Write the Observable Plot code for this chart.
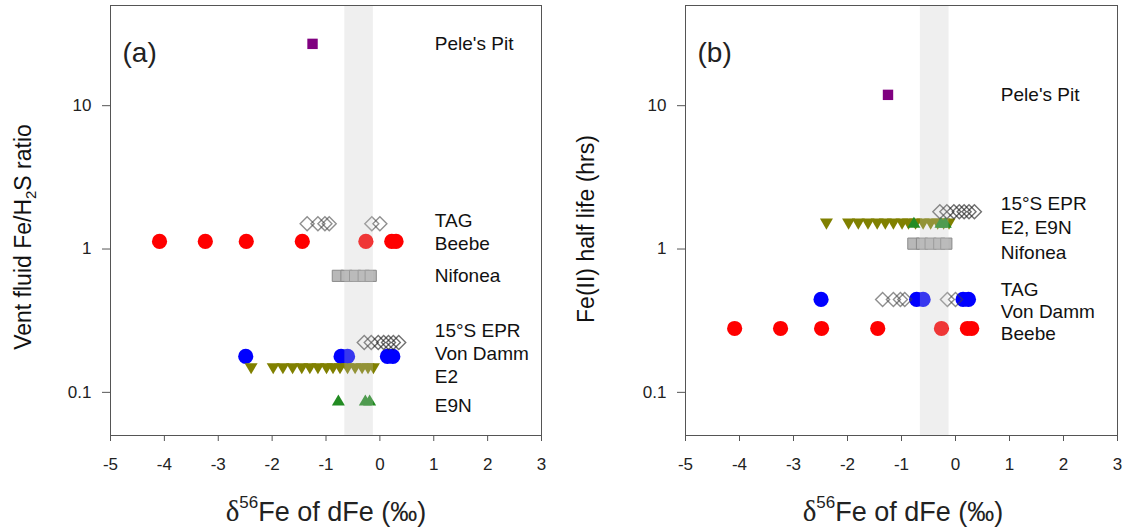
<!DOCTYPE html>
<html><head><meta charset="utf-8">
<script src="https://cdn.jsdelivr.net/npm/d3@7"></script>
<script src="https://cdn.jsdelivr.net/npm/@observablehq/plot@0.6"></script>
<style>
body{margin:0;background:#fff;}
#wrap{display:flex;width:1126px;height:529px;}
svg{font-family:Arial,"Liberation Sans",sans-serif;}
</style></head><body><div id="wrap"></div>
<script>
// ---------- data ----------
const xTicks = [-5, -4, -3, -2, -1, 0, 1, 2, 3];
const yTicks = [0.1, 1, 10];
const bandRange = [-0.65, -0.12];

const siteNames = ["Pele's Pit", "Beebe", "Von Damm", "TAG", "Nifonea", "E2", "E9N", "15°S EPR"];
const peleX = [-1.25];
const beebeX = [-4.09, -3.24, -2.48, -1.44, -0.26, 0.22, 0.3];
const vonDammX = [-2.49, -0.72, -0.6, 0.14, 0.24];
const tagX = [-1.35, -1.15, -1.02, -0.94, -0.15, 0.0];
const nifoneaX = [-0.78, -0.62, -0.46, -0.3, -0.17];
const e2X = [-2.39, -1.98, -1.8, -1.62, -1.45, -1.3, -1.15, -0.99, -0.87, -0.74, -0.6, -0.46, -0.33, -0.22, -0.12];
const e9nX = [-0.77, -0.27, -0.19];
const eprX = [-0.29, -0.16, -0.03, 0.07, 0.16, 0.25, 0.35];
const siteX = [peleX, beebeX, vonDammX, tagX, nifoneaX, e2X, e9nX, eprX];

// panel (a): vent fluid Fe/H2S ratio, panel (b): Fe(II) half life (hrs)
const ratioValues = [27, 1.13, 0.178, 1.5, 0.65, 0.147, 0.088, 0.223];
const halfLifeValues = [11.9, 0.279, 0.445, 0.445, 1.09, 1.5, 1.53, 1.82];

const labelsA = ["Pele's Pit", "TAG", "Beebe", "Nifonea", "15°S EPR", "Von Damm", "E2", "E9N"];
const labelYA = [27, 1.58, 1.09, 0.653, 0.27, 0.184, 0.129, 0.080];
const labelsB = ["Pele's Pit", "15°S EPR", "E2, E9N", "Nifonea", "TAG", "Von Damm", "Beebe"];
const labelYB = [11.9, 2.08, 1.41, 0.946, 0.52, 0.366, 0.254];

// ---------- build rows ----------
const rows = [];
siteNames.forEach((s, i) => siteX[i].forEach(x => rows.push({site: s, x, a: ratioValues[i], b: halfLifeValues[i]})));

// ---------- symbols ----------
const rOf = size => Math.sqrt(size / Math.PI);
const squareSym = {draw(c, size){const r = rOf(size); c.rect(-r, -r, 2*r, 2*r);}};
const diamondSym = {draw(c, size){const r = rOf(size); c.moveTo(0,-r); c.lineTo(r,0); c.lineTo(0,r); c.lineTo(-r,0); c.closePath();}};
const downTri = {draw(c, size){const r = rOf(size); c.moveTo(-r,-0.8*r); c.lineTo(r,-0.8*r); c.lineTo(0,0.9*r); c.closePath();}};
const upTri = {draw(c, size){const r = rOf(size); c.moveTo(-r,0.8*r); c.lineTo(r,0.8*r); c.lineTo(0,-0.9*r); c.closePath();}};

const styles = {
  "Pele's Pit": {symbol: squareSym, r: 5.2, fill: "#800080"},
  "Beebe": {symbol: "circle", r: 7.6, fill: "#ff0000"},
  "Von Damm": {symbol: "circle", r: 7.6, fill: "#0000ff"},
  "Nifonea": {symbol: squareSym, r: 5.6, fill: "#b8b8b8", stroke: "#8a8a8a", strokeWidth: 1},
  "E2": {symbol: downTri, r: 6.5, fill: "#808000"},
  "E9N": {symbol: upTri, r: 6.5, fill: "#228b22"},
  "TAG": {symbol: diamondSym, r: 7, fill: "none", stroke: "#444", strokeOpacity: 0.6, strokeWidth: 1.4},
  "15°S EPR": {symbol: diamondSym, r: 7, fill: "none", stroke: "#222", strokeOpacity: 0.65, strokeWidth: 1.4}
};
const drawOrder = ["Beebe", "Von Damm", "E2", "E9N", "Nifonea", "Pele's Pit", "TAG", "15°S EPR"];

function panel(key, labels, labelYs, labelX, title, width, ml, mr) {
  const marks = [];
  for (const s of drawOrder) {
    const st = styles[s];
    marks.push(Plot.dot(rows.filter(d => d.site === s), {x: "x", y: key, ...st}));
  }
  marks.push(Plot.rect([bandRange], {x1: d => d[0], x2: d => d[1], fill: "#c4c4c4", fillOpacity: 0.28}));
  marks.push(Plot.text(labels, {x: () => labelX, y: (d, i) => labelYs[i], text: d => d, textAnchor: "start", fontSize: 19, fill: "#111"}));
  marks.push(Plot.text([title], {frameAnchor: "top-left", dx: 12, dy: 37, fontSize: 28, textAnchor: "start", fill: "#222"}));
  marks.push(Plot.frame({stroke: "#555", strokeWidth: 1}));
  marks.push(Plot.axisX({ticks: xTicks, tickFormat: d => String(d), tickSize: 6, tickPadding: 16, fontSize: 17, label: null, stroke: "#555", fill: "#222"}));
  marks.push(Plot.axisY({ticks: yTicks, tickFormat: d => String(d), tickSize: 8, tickPadding: 11, fontSize: 17, label: null, stroke: "#555", fill: "#222"}));
  return Plot.plot({
    width, height: 529,
    marginLeft: ml, marginRight: mr, marginTop: 5, marginBottom: 94,
    x: {domain: [-5, 3]},
    y: {type: "log", domain: [0.05, 50]},
    style: {fontFamily: 'Arial, "Liberation Sans", sans-serif', background: "#fff"},
    marks
  });
}

const svgA = panel("a", labelsA, labelYA, 1.02, "(a)", 563, 110, 22);
const svgB = panel("b", labelsB, labelYB, 0.84, "(b)", 563, 122, 9);
const wrap = document.getElementById("wrap");
wrap.appendChild(svgA);
wrap.appendChild(svgB);

function addXLabel(svg, cx) {
  const t = d3.select(svg).append("text").attr("x", cx).attr("y", 521)
    .attr("text-anchor", "middle").attr("font-size", 27).attr("fill", "#222");
  t.append("tspan").attr("font-family", '"Liberation Serif","DejaVu Serif",serif').attr("font-size", 29).text("δ");
  t.append("tspan").attr("font-size", 17).attr("dy", "-0.75em").text("56");
  t.append("tspan").attr("dy", "0.47em").text("Fe of dFe (‰)");
}
function addYLabel(svg, cy, parts) {
  const t = d3.select(svg).append("text").attr("transform", `translate(31,${cy}) rotate(-90)`)
    .attr("text-anchor", "middle").attr("font-size", 23).attr("fill", "#111");
  for (const [txt, kind] of parts) {
    const ts = t.append("tspan").text(txt);
    if (kind === "sub") ts.attr("font-size", 15).attr("dy", "0.35em");
    if (kind === "after") ts.attr("dy", "-0.23em");
  }
}
addXLabel(svgA, 326);
addXLabel(svgB, 340);
addYLabel(svgA, 237, [["Vent fluid Fe/H", ""], ["2", "sub"], ["S ratio", "after"]]);
addYLabel(svgB, 229, [["Fe(II) half life (hrs)", ""]]);
</script></body></html>
